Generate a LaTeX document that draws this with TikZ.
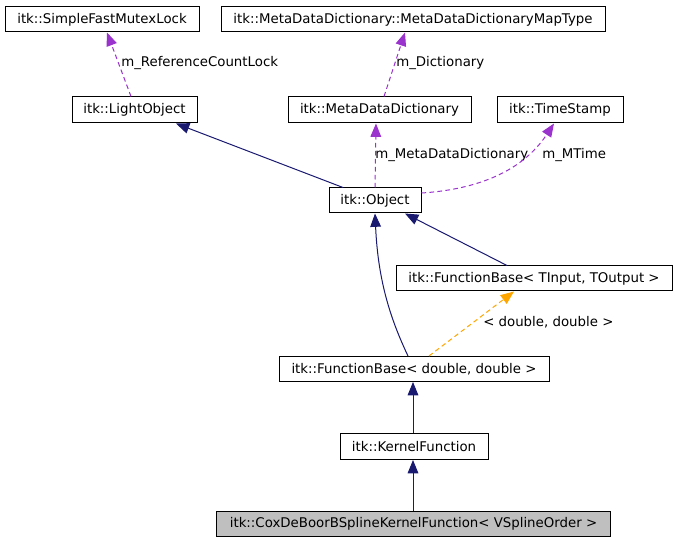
\documentclass[tikz,border=0pt]{standalone}
\usepackage{fontspec}
\setmainfont{DejaVu Sans}
\usetikzlibrary{arrows.meta,calc}
\definecolor{navy}{HTML}{191970}
\definecolor{purp}{HTML}{9A32CD}
\definecolor{orng}{HTML}{FFA500}
\definecolor{grayfill}{HTML}{BFBFBF}
\begin{document}
\begin{tikzpicture}[x=0.75pt,y=-0.75pt,
  font=\fontsize{10}{11}\selectfont,
  box/.style={draw=black,line width=0.75pt,minimum height=18.75pt,inner sep=0pt,fill=white},
  inh/.style={draw=navy,line width=0.75pt,-{Triangle[length=10pt,width=8pt]}},
  use/.style={draw=purp,line width=0.75pt,dash pattern=on 3.5pt off 2.5pt,-{Triangle[length=10pt,width=8pt]}},
  tmpl/.style={draw=orng,line width=0.75pt,dash pattern=on 3.5pt off 2.5pt,-{Triangle[length=10pt,width=8pt]}},
  lbl/.style={anchor=west,inner sep=0pt}]
\useasboundingbox (0,0) rectangle (676,541);
\node[box,minimum width=145.5pt] (sfml) at (102,19.5) {itk::SimpleFastMutexLock};
\node[box,minimum width=288pt] (mapt) at (413,19.5) {itk::MetaDataDictionary::MetaDataDictionaryMapType};
\node[box,minimum width=93.75pt,minimum height=19.5pt] (lo) at (134.5,110) {itk::LightObject};
\node[box,minimum width=137.25pt,minimum height=19.5pt] (mdd) at (379.5,110) {itk::MetaDataDictionary};
\node[box,minimum width=94.5pt,minimum height=19.5pt] (ts) at (560,110) {itk::TimeStamp};
\node[box,minimum width=69pt] (obj) at (375,200.5) {itk::Object};
\node[box,minimum width=207pt] (fbt) at (534,278.5) {itk::FunctionBase< TInput, TOutput >};
\node[box,minimum width=202.5pt] (fbd) at (414,369) {itk::FunctionBase< double, double >};
\node[box,minimum width=111pt,minimum height=19.5pt] (kf) at (414,446.5) {itk::KernelFunction};
\node[box,minimum width=295.5pt,fill=grayfill] (cox) at (413.5,524) {itk::CoxDeBoorBSplineKernelFunction< VSplineOrder >};

\draw[use] ($(lo.north)+(-3.5,0)$) -- ($(sfml.south)+(5,0)$);
\node[lbl] (l1) at (121,63) {m\_ReferenceCountLock};
\draw[use] ($(mdd.north)+(4.5,0)$) -- ($(mapt.south)+(-8,0)$);
\node[lbl] (l2) at (396,63) {m\_Dictionary};
\draw[use] (obj.north) -- ($(mdd.south)+(-3.5,0)$);
\node[lbl] (l3) at (375,155) {m\_MetaDataDictionary};
\draw[use] ($(obj.east)+(0,-7.5)$) .. controls (470,190) and (520,175) .. ($(ts.south)+(-6,0)$);
\node[lbl] (l4) at (542,155) {m\_MTime};
\draw[inh] ($(obj.north)+(-32,0)$) -- ($(lo.south)+(41.5,0)$);
\draw[inh] ($(fbd.north)+(-6,0)$) .. controls (390,318) and (378,280) .. (obj.south);
\draw[inh] ($(fbt.north)+(-27,0)$) -- ($(obj.south)+(30,0)$);
\draw[tmpl] ($(fbd.north)+(15,0)$) -- ($(fbt.south)+(-20,0)$);
\node[lbl] (l5) at (483,322) {< double, double >};
\draw[inh] ($(kf.north)+(-1,0)$) -- ($(fbd.south)+(-1,0)$);
\draw[inh] ($(cox.north)+(-0.5,0)$) -- ($(kf.south)+(-1,0)$);
\end{tikzpicture}
\end{document}
